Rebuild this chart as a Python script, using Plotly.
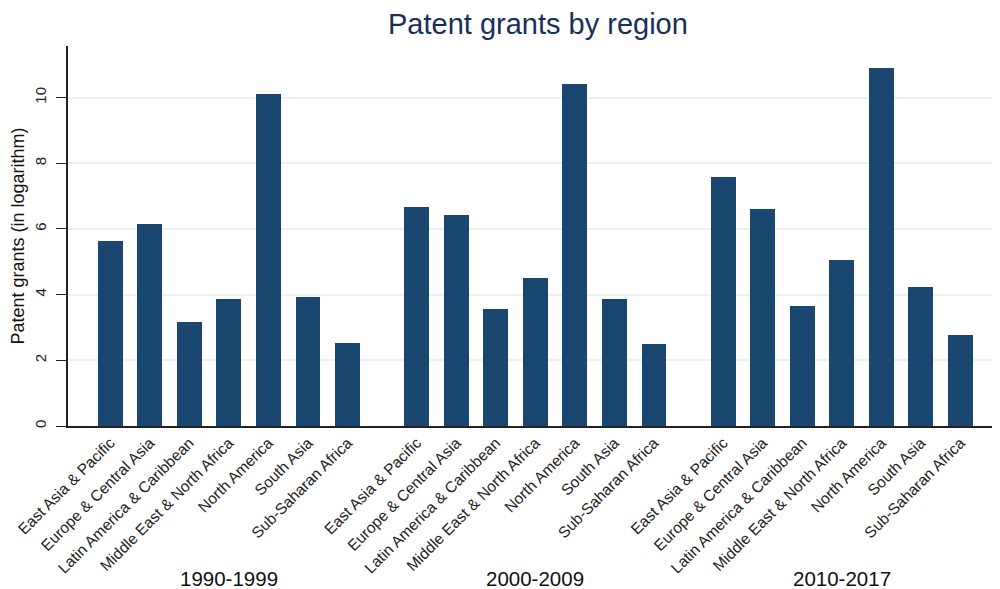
import plotly.graph_objects as go

regions = ["East Asia & Pacific", "Europe & Central Asia", "Latin America & Caribbean",
           "Middle East & North Africa", "North America", "South Asia", "Sub-Saharan Africa"]
periods = ["1990-1999", "2000-2009", "2010-2017"]
v1990 = [5.62, 6.15, 3.17, 3.87, 10.1, 3.93, 2.53]
v2000 = [6.67, 6.42, 3.56, 4.50, 10.41, 3.87, 2.50]
v2010 = [7.58, 6.60, 3.65, 5.05, 10.90, 4.23, 2.77]
values = [v1990, v2000, v2010]

GAP = 0.75
BAR = "#1a476f"
FONT = "Liberation Sans, Arial, Helvetica, sans-serif"

# page body has an 8px default margin; size the figure so it fills the 1000x589 window
OFF = 8
W, H = 1000 - OFF, 589 - OFF
TOP, LEFT, BOTTOM, RIGHT = 46 - OFF, 68 - OFF, 163, 2
PLOT_H = H - TOP - BOTTOM
PLOT_W = W - LEFT - RIGHT

xs, ys, labels = [], [], []
centers = []
for gi, vals in enumerate(values):
    base = gi * (len(regions) + GAP)
    for ri, v in enumerate(vals):
        xs.append(base + ri)
        ys.append(v)
        labels.append(regions[ri])
    centers.append(base + (len(regions) - 1) / 2)

fig = go.Figure(go.Bar(x=xs, y=ys, width=0.63, marker=dict(color=BAR, line=dict(width=0)),
                       showlegend=False))

for c, p in zip(centers, periods):
    fig.add_annotation(x=c, xref="x", y=-(578 - 426) / PLOT_H, yref="paper", text=p,
                       showarrow=False, font=dict(size=20.5, color="#111111", family=FONT),
                       yanchor="middle")

fig.add_annotation(x=(538 - 68) / PLOT_W, xref="paper", y=1 + (46 - 24) / PLOT_H, yref="paper",
                   text="Patent grants by region", showarrow=False,
                   font=dict(size=29, color="#1a2e5a", family=FONT), yanchor="middle")

fig.update_layout(
    width=W, height=H,
    margin=dict(l=LEFT, r=RIGHT, t=TOP, b=BOTTOM, autoexpand=False),
    plot_bgcolor="white", paper_bgcolor="white",
    font=dict(family=FONT, color="#222222"),
    bargap=0,
)
fig.update_xaxes(
    range=[-1.07, 2 * (len(regions) + GAP) + 6 + 0.95],
    tickmode="array", tickvals=xs, ticktext=labels, tickangle=-45,
    tickfont=dict(size=15.5, color="#222222"),
    showgrid=False, zeroline=False, automargin=False,
    showline=True, linecolor="#222222", linewidth=1.5, ticks="",
)
fig.update_yaxes(
    range=[0, 11.57], tickvals=[0, 2, 4, 6, 8, 10], tickangle=-90,
    tickfont=dict(size=15, color="#222222"), automargin=False,
    ticks="outside", ticklen=10, tickcolor="#222222", tickwidth=1.2, ticklabelstandoff=4,
    showgrid=True, gridcolor="#eaf2f3", gridwidth=1.5, zeroline=False,
    showline=True, linecolor="#222222", linewidth=1.5,
    title=dict(text="Patent grants (in logarithm)", font=dict(size=18, color="#111111"), standoff=6),
)

fig.write_html("out.html")
